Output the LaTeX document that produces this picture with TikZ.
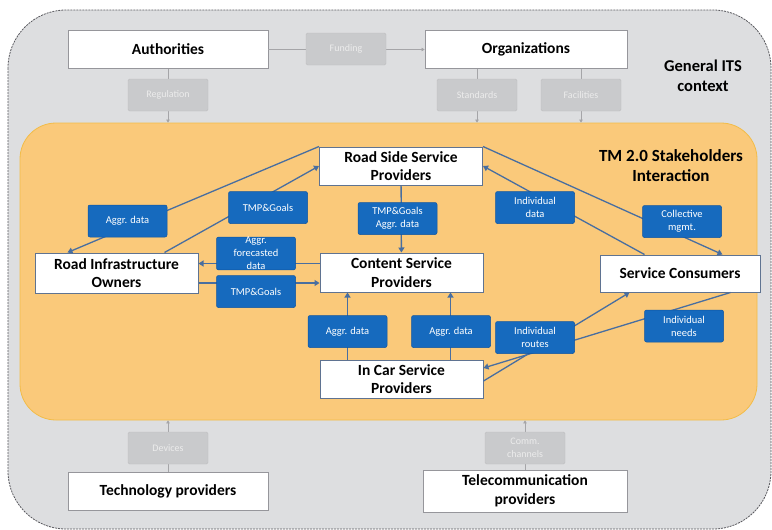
\documentclass[tikz,border=0pt]{standalone}
\usepackage{fontspec}
\setmainfont{Carlito}
\usetikzlibrary{arrows.meta}
\definecolor{itsgray}{RGB}{221,222,224}
\definecolor{tmorange}{RGB}{250,201,122}
\definecolor{tmedge}{RGB}{242,188,72}
\definecolor{msgblue}{RGB}{22,106,190}
\definecolor{flowline}{RGB}{72,110,160}
\definecolor{gboxfill}{RGB}{201,202,204}

\begin{document}
\begin{tikzpicture}[x=1pt,y=1pt,yscale=-1,
	party/.style={draw={rgb,255:red,150;green,150;blue,155},line width=0.8pt,fill=white,minimum width=200pt,minimum height=38pt,inner sep=0pt,align=center,font=\fontsize{15.5}{18.5}\selectfont\bfseries},
	actor/.style={draw={rgb,255:red,95;green,115;blue,145},line width=1pt,fill=white,minimum width=163pt,minimum height=38pt,inner sep=0pt,align=center,font=\fontsize{15.5}{18.5}\selectfont\bfseries},
	msg/.style={draw={rgb,255:red,15;green,85;blue,160},line width=0.5pt,fill=msgblue,rounded corners=2pt,minimum width=79pt,minimum height=32pt,inner sep=0pt,align=center,text=white,font=\fontsize{10.5}{13}\selectfont},
	gmsg/.style={draw={rgb,255:red,190;green,190;blue,192},fill=gboxfill,rounded corners=1.5pt,minimum width=80pt,minimum height=32pt,inner sep=0pt,align=center,text={rgb,255:red,236;green,236;blue,236},font=\fontsize{10}{12.5}\selectfont},
	title/.style={align=center,font=\fontsize{16.5}{20}\selectfont\bfseries},
	flow/.style={draw=flowline,line width=1.3pt,-{Triangle[width=6pt,length=5pt]}},
	gflow/.style={draw={rgb,255:red,165;green,165;blue,168},line width=0.6pt,-{Triangle[width=3.5pt,length=3pt]}}]
	\useasboundingbox (0,0) rectangle (772,530);
	\draw [fill=itsgray,draw={rgb,255:red,90;green,90;blue,95},line width=0.8pt,dash pattern=on 2pt off 1pt,rounded corners=58pt] (8,10) rectangle (771,529);
	\node (tm) [fill=tmorange,draw=tmedge,line width=0.8pt,rounded corners=36pt,minimum width=737pt,minimum height=297pt] at (388.5,271.5) {};

	\node (auth) [party] at (168,49.5) {Authorities};
	\node (org) [party,minimum width=202pt] at (526,49.5) {Organizations};
	\node (tech) [party] at (168,491) {Technology providers};
	\node (tele) [party,minimum width=204pt,minimum height=42pt] at (525,491) {Telecommunication\\providers};
	\node (itstitle) [title] at (703,76) {General ITS\\context};
	\node (tmtitle) [title,font=\fontsize{17}{20}\selectfont\bfseries] at (671,166) {TM 2.0 Stakeholders\\Interaction};

	\node (rssp) [actor] at (401,166) {Road Side Service\\Providers};
	\node (csp) [actor,minimum height=39pt] at (401.5,272.5) {Content Service\\Providers};
	\node (rio) [actor,minimum height=40pt] at (116.5,273) {Road Infrastructure\\Owners};
	\node (sc) [actor,minimum width=160pt,minimum height=37pt] at (680,273.5) {Service Consumers};
	\node (icsp) [actor] at (401.5,379) {In Car Service\\Providers};

	\draw [gflow] (auth) -- (org);
	\draw [gflow] (auth) -- (auth |- tm.north);
	\draw [gflow] ([xshift=-49pt]org.south) -- ([xshift=-49pt]org.south |- tm.north);
	\draw [gflow] ([xshift=55pt]org.south) -- ([xshift=55pt]org.south |- tm.north);
	\draw [gflow] (tech) -- (tech |- tm.south);
	\draw [gflow] (tele) -- (tele |- tm.south);

	\draw [flow] (rssp.north west) -- ([xshift=33pt]rio.north west);
	\draw [flow] ([xshift=130pt]rio.north west) -- (rssp.west);
	\draw [flow] ([yshift=10pt]rio.east) -- ([yshift=10pt]rio.east -| csp.west);
	\draw [flow] ([yshift=-9pt]csp.west) -- ([yshift=-9pt]csp.west -| rio.east);
	\draw [flow] (rssp) -- (csp);
	\draw [flow] ([xshift=-54pt]icsp.north) -- ([xshift=-54pt]icsp.north |- csp.south);
	\draw [flow] ([xshift=49pt]icsp.north) -- ([xshift=49pt]icsp.north |- csp.south);
	\draw [flow] ([xshift=45pt]sc.north west) -- (rssp.east);
	\draw [flow] (rssp.north east) -- ([xshift=-38pt]sc.north east);
	\draw [flow] ([yshift=2pt]icsp.east) -- ([xshift=30pt]sc.south west);
	\draw [flow] ([xshift=-30pt]sc.south east) -- ([yshift=-11pt]icsp.east);

	\node (funding) [gmsg] at (346,49) {Funding};
	\node (regulation) [gmsg] at (168,95) {Regulation};
	\node (standards) [gmsg] at (477,95) {Standards};
	\node (facilities) [gmsg] at (581,95) {Facilities};
	\node (devices) [gmsg] at (168,448) {Devices};
	\node (channels) [gmsg] at (525,448) {Comm.\\channels};

	\node (aggrrio) [msg] at (127.5,221) {Aggr. data};
	\node (goalsup) [msg] at (268,207.5) {TMP\&Goals};
	\node (forecast) [msg] at (256,253.5) {Aggr.\\forecasted\\data};
	\node (goalslow) [msg] at (256,291.5) {TMP\&Goals};
	\node (goalsaggr) [msg] at (397.5,218.5) {TMP\&Goals\\Aggr. data};
	\node (aggrleft) [msg] at (347.5,331.5) {Aggr. data};
	\node (aggrright) [msg] at (451,331.5) {Aggr. data};
	\node (inddata) [msg] at (535,207.5) {Individual\\data};
	\node (collective) [msg] at (682,221.5) {Collective\\mgmt.};
	\node (routes) [msg] at (535,337.5) {Individual\\routes};
	\node (needs) [msg] at (684,326) {Individual\\needs};
\end{tikzpicture}
\end{document}
